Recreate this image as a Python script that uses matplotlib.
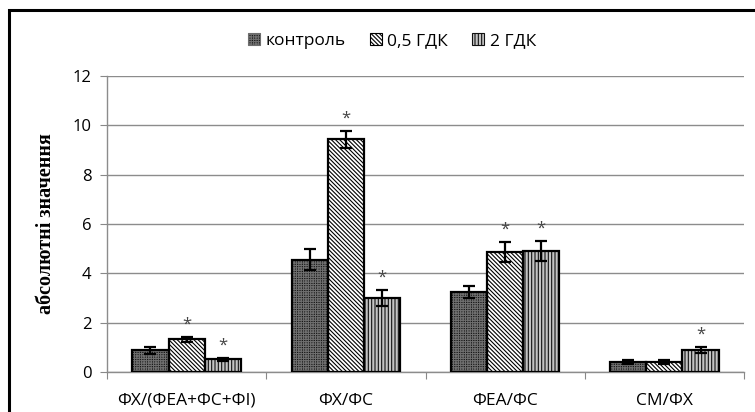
import matplotlib
matplotlib.use("Agg")
import matplotlib.pyplot as plt
from matplotlib.patches import Rectangle, Patch
import numpy as np

categories = ["ФХ/(ФЕА+ФС+ФІ)", "ФХ/ФС", "ФЕА/ФС", "СМ/ФХ"]
series_names = ["контроль", "0,5 ГДК", "2 ГДК"]
control = [0.88, 4.56, 3.26, 0.42]
control_err = [0.15, 0.43, 0.24, 0.08]
gdk05 = [1.32, 9.43, 4.86, 0.42]
gdk05_err = [0.10, 0.35, 0.42, 0.08]
gdk2 = [0.51, 3.00, 4.92, 0.91]
gdk2_err = [0.07, 0.32, 0.41, 0.12]
significant = [
    [False, False, False, False],
    [True, True, True, False],
    [True, True, True, True],
]
y_ticks = [0, 2, 4, 6, 8, 10, 12]

values = [control, gdk05, gdk2]
errors = [control_err, gdk05_err, gdk2_err]
styles = [
    dict(face="#151515", hatch="+++++++", hcolor="#6e6e6e"),
    dict(face="white", hatch="\\\\\\\\\\\\\\\\", hcolor="black"),
    dict(face="#c4c4c4", hatch="|||||", hcolor="#111111"),
]

plt.rcParams["font.family"] = ["Open Sans", "DejaVu Sans"]
plt.rcParams["hatch.linewidth"] = 0.8

fig = plt.figure(figsize=(7.55, 4.12), dpi=100)
ax = fig.add_axes([107 / 755, 1 - 372 / 412, (744 - 107) / 755, (372 - 76) / 412])

x = np.arange(len(categories))
width = 0.227
for i, (vals, errs, st) in enumerate(zip(values, errors, styles)):
    pos = x + (i - 1) * width
    ax.bar(pos, vals, width, color=st["face"], edgecolor=st["hcolor"],
           hatch=st["hatch"], linewidth=0, zorder=3)
    ax.bar(pos, vals, width, fill=False, edgecolor="black", linewidth=1.6, zorder=4)
    ax.errorbar(pos, vals, yerr=errs, fmt="none", ecolor="black",
                elinewidth=1.6, capsize=4, capthick=1.6, zorder=5)
    for j in range(len(categories)):
        if significant[i][j]:
            ax.text(pos[j], vals[j] + errs[j] + 0.5, "*", ha="center", va="center",
                    fontsize=12, color="#444444", zorder=6)

ax.set_xlim(-0.5, len(categories) - 0.5)
ax.set_ylim(0, 12)
ax.set_yticks(y_ticks)
ax.set_yticklabels([str(t) for t in y_ticks], fontsize=12)
ax.set_xticks(np.arange(len(categories) + 1) - 0.5)
ax.set_xticklabels([])
ax.set_xticks(x, minor=True)
ax.set_xticklabels(categories, minor=True, fontsize=12.5)
ax.tick_params(axis="x", which="minor", length=0, pad=15)
ax.tick_params(axis="x", which="major", length=5, color="#888888", direction="out")
ax.tick_params(axis="y", length=5, color="#888888", pad=6)
ax.yaxis.grid(True, color="#8c8c8c", linewidth=1.0, zorder=0)
ax.set_axisbelow(True)
for s in ["top", "right"]:
    ax.spines[s].set_visible(False)
for s in ["left", "bottom"]:
    ax.spines[s].set_color("#8c8c8c")
    ax.spines[s].set_linewidth(1.0)

ax.set_ylabel("абсолютні значення", family=["Liberation Serif", "DejaVu Serif"],
              fontweight="bold", fontsize=14.5, labelpad=12)

handles = [Patch(facecolor=st["face"], edgecolor=st["hcolor"], hatch=st["hatch"],
                 linewidth=0.8) for st in styles]
fig.legend(handles, series_names, loc="center", bbox_to_anchor=(392 / 755, 1 - 41 / 412),
           ncol=3, frameon=False, fontsize=12.5, handlelength=0.7, handleheight=0.7,
           handletextpad=0.3, columnspacing=1.4)

fig.patches.append(Rectangle((8.5 / 755, -0.1), 1.2, 1 - 10 / 412 + 0.1, transform=fig.transFigure,
                             fill=False, edgecolor="black", linewidth=2.2))

fig.savefig("out.png", dpi=100)
